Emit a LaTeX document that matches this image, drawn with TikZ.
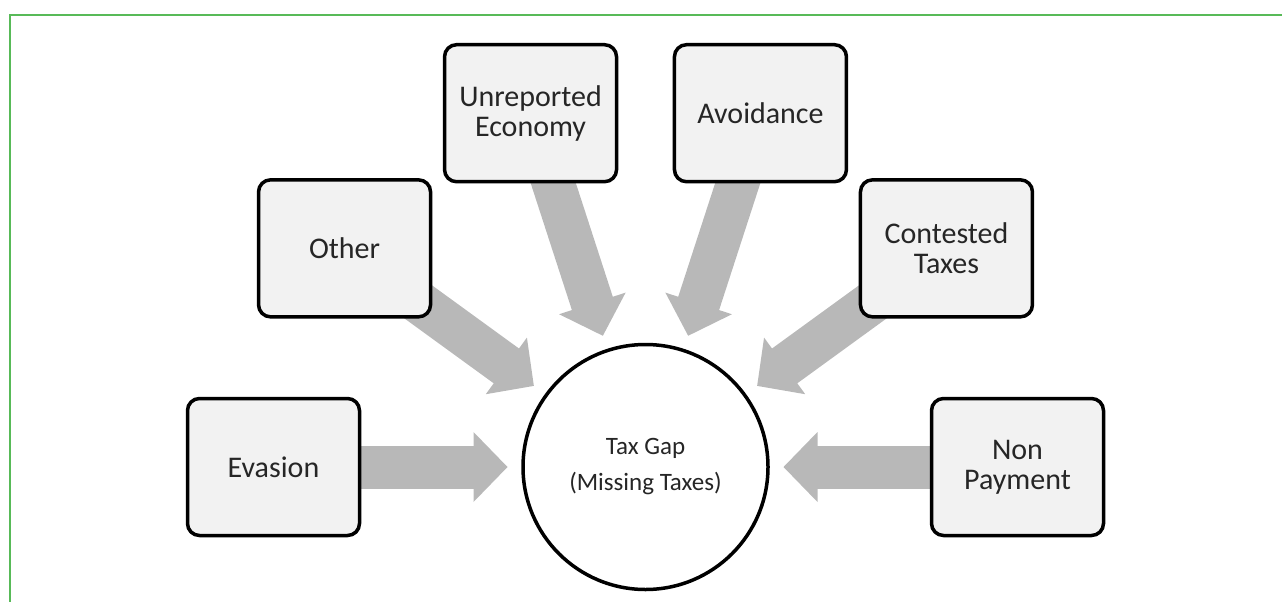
\documentclass[tikz,border=0pt]{standalone}
\usepackage{fontspec}
\setmainfont{Carlito}
\usetikzlibrary{calc,backgrounds}
\definecolor{boxfill}{HTML}{F2F2F2}
\definecolor{flowgray}{HTML}{B8B8B8}
\definecolor{framegreen}{RGB}{88,186,88}

\begin{document}
\begin{tikzpicture}[
  x=1pt,y=1pt,
  source/.style={rectangle,draw=black,line width=3.5pt,fill=boxfill,rounded corners=12pt,minimum width=172pt,minimum height=137pt,align=center,text=black!85,font=\fontsize{30}{30}\selectfont},
  hub/.style={circle,draw=black,line width=3.5pt,fill=white,minimum size=245pt,align=center,text=black!85,font=\fontsize{25}{36}\selectfont},
  shaft/.style={draw=flowgray,line width=43pt}
]

\def\feed#1;{
  \coordinate (tip) at ($(gap.center)!138pt!(#1.center)$);
  \coordinate (neck) at ($(gap.center)!172pt!(#1.center)$);
  \draw[shaft] (#1.center) -- ($(gap.center)!170pt!(#1.center)$);
  \fill[flowgray] (tip) -- ($(neck)!35pt!90:(tip)$) -- ($(neck)!35pt!-90:(tip)$) -- cycle;
}

\useasboundingbox (0,0) rectangle (1282,-602);
\draw[framegreen,line width=1.5pt] (10,-602) -- (10,-15) -- (1282,-15);

\node[hub] (gap) at (645.5,-467) {Tax Gap\\(Missing Taxes)};

\foreach \ang/\nm/\txt in {180/eva/Evasion,144/other/Other,108/unrep/{Unreported\\Economy},72/avoid/Avoidance,36/contest/{Contested\\Taxes},0/nonpay/{Non\\Payment}}
  \node[source] (\nm) at ($(gap.center)+(\ang:372)$) {\txt};

\begin{scope}[on background layer]
\foreach \nm in {eva,other,unrep,avoid,contest,nonpay} \feed \nm;
\end{scope}

\end{tikzpicture}
\end{document}
